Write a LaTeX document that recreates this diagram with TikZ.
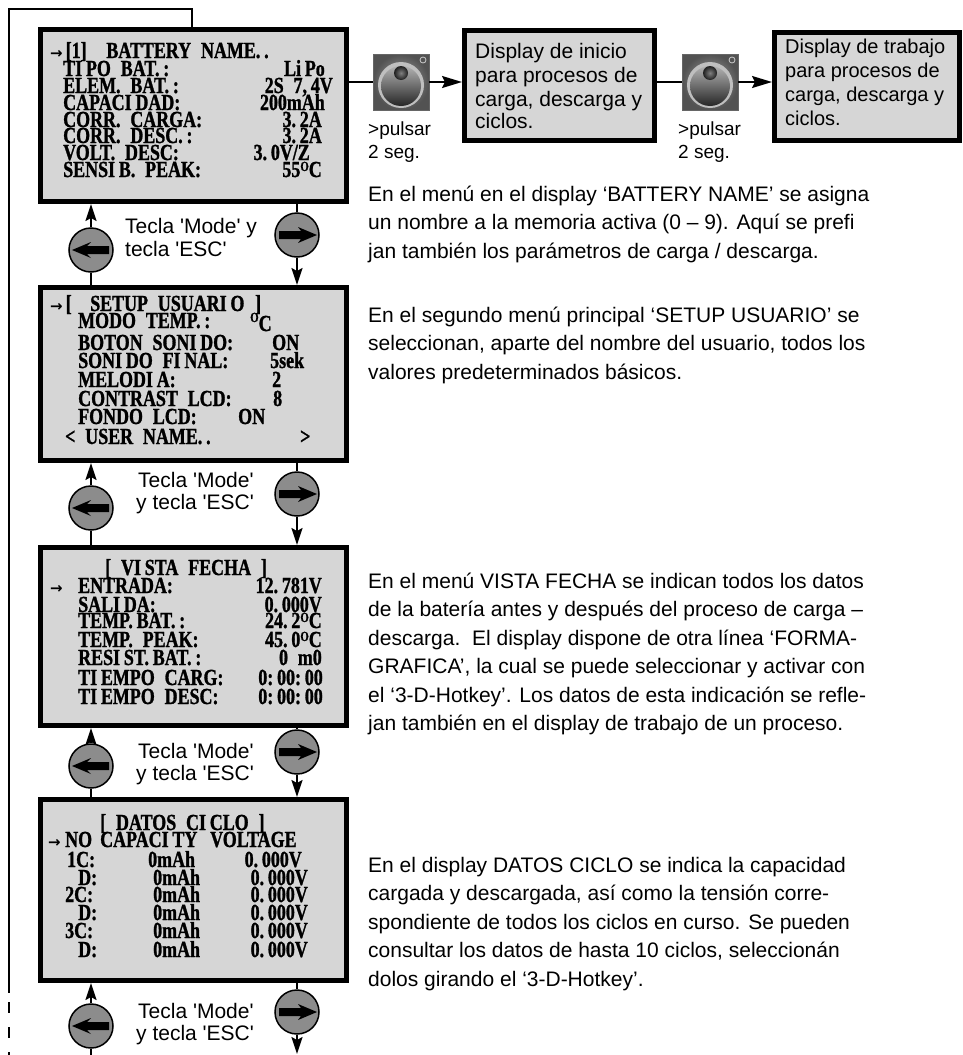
\documentclass[tikz,border=0pt]{standalone}
\usepackage{fontspec}
\setmainfont{Liberation Sans}
\newfontfamily\lcdfont[FakeStretch=0.78,FakeBold=1.2,WordSpace=2.2]{Liberation Serif}
\newfontfamily\arrowfont{DejaVu Sans}
\usetikzlibrary{arrows.meta,calc}

\definecolor{lcdgray}{RGB}{214,214,214}
\definecolor{keygray}{RGB}{140,140,140}

% raised "O" used as degree sign on the LCD screens
\newcommand\dg{\raisebox{6pt}{\fontsize{14}{14}\selectfont O}}
% cursor arrow on the LCD screens
\newcommand\cur{{\arrowfont\bfseries\fontsize{15}{15}\selectfont →}\kern3pt}
\newcommand\sq{\textquotesingle}

\begin{document}
\begin{tikzpicture}[x=1pt,y=-1pt,
  lcd/.style={draw, line width=5pt, fill=lcdgray, inner sep=0pt},
  infobox/.style={draw, line width=5pt, fill=lcdgray, inner sep=0pt},
  lcdL/.style={font=\lcdfont\bfseries\fontsize{23}{23}\selectfont, inner sep=0pt, anchor=base west},
  lcdR/.style={lcdL, anchor=base east},
  txt/.style={font=\fontsize{21}{21}\selectfont, inner sep=0pt, anchor=base west},
  boxtxt/.style={txt, font=\fontsize{#1}{#1}\selectfont},
  key/.style={circle, draw, line width=1.5pt, fill=keygray, minimum size=44pt, inner sep=0pt},
  wire/.style={line width=2pt},
  conn/.style={wire, -{Stealth[length=17pt,width=11pt,inset=3pt]}},
  hconn/.style={wire, -{Stealth[length=20pt,width=12pt,inset=3pt]}},
  joystick/.style={minimum size=56pt, inner sep=0pt, draw=black!60, line width=0.6pt,
    path picture={
      \begin{scope}[shift={(path picture bounding box.center)}]
        \shade[inner color=black!35, outer color=black!68] (-28,-28) rectangle (28,28);
        \fill[black!25] (0,3) circle[radius=23];
        \shade[top color=black!30, bottom color=black!85] (0,4) circle[radius=20];
        \shade[inner color=black!50, outer color=black!88] (0,-9) circle[radius=7];
        \draw[black!20, line width=0.8pt] (22,-22) circle[radius=3];
      \end{scope}}}
]
\useasboundingbox (0,0) rectangle (963,1055);
\fill[white] (0,0) rectangle (963,1055);

% ---------- LCD screens ----------
\node[lcd, minimum width=306, minimum height=172] (lcd1) at (193.5,115.5) {};
\node[lcd, minimum width=306, minimum height=173] (lcd2) at (193.5,374) {};
\node[lcd, minimum width=306, minimum height=178] (lcd3) at (193.5,636.5) {};
\node[lcd, minimum width=306, minimum height=181] (lcd4) at (193.5,890) {};

% screen 1: battery memory
\foreach \x/\y/\t [count=\n] in {
  50/58/{\cur[1]\ \ BATTERY\ NAME.\,.},
  63/76/{TI\,PO BAT.\,:},
  63/93/{ELEM. BAT.\,:},
  63/110/{CAPACI\,DAD:},
  63/127/{CORR. CARGA:},
  63/143/{CORR. DESC.\,:},
  63/160/{VOLT. DESC:},
  63/177/{SENSI\,B. PEAK:}}
  \node[lcdL] (s1l\n) at (\x,\y) {\t};
\foreach \x/\y/\t [count=\n] in {
  325/76/{Li\,Po},
  333/93/{2S 7,\,4V},
  325/110/{200mAh},
  322/127/{3.\,2A},
  322/143/{3.\,2A},
  310/160/{3.\,0V/Z},
  322/177/{55\dg C}}
  \node[lcdR] (s1r\n) at (\x,\y) {\t};

% screen 2: user setup
\foreach \x/\y/\t [count=\n] in {
  50/311/{\cur[},
  90/311/{SETUP USUARI\,O},
  255/311/{]},
  78/328/{MODO TEMP.\,:},
  78/350/{BOTON SONI\,DO:},
  78/368/{SONI\,DO FI\,NAL:},
  78/387/{MELODI\,A:},
  78/406/{CONTRAST LCD:},
  78/424/{FONDO LCD:},
  65/444/{< USER NAME.\,.},
  272/350/{ON},
  270/368/{5sek},
  272/387/{2},
  273/406/{8},
  238/424/{ON},
  300/444/{>}}
  \node[lcdL] (s2l\n) at (\x,\y) {\t};
\node[lcdL] (s2deg) at (250,329) {\raisebox{7pt}{\fontsize{14}{14}\selectfont O}\raisebox{-2pt}{C}};

% screen 3: data view
\foreach \x/\y/\t [count=\n] in {
  105/575/{[ VI\,STA FECHA ]},
  50/593/{\cur},
  78/593/{ENTRADA:},
  78/612/{SALI\,DA:},
  78/628/{TEMP.\,BAT.\,:},
  78/647/{TEMP. PEAK:},
  78/665/{RESI\,ST.\,BAT.\,:},
  78/685/{TI\,EMPO CARG:},
  78/704/{TI\,EMPO DESC:}}
  \node[lcdL] (s3l\n) at (\x,\y) {\t};
\foreach \x/\y/\t [count=\n] in {
  322/593/{12.\,781V},
  322/612/{0.\,000V},
  322/628/{24.\,2\dg C},
  322/647/{45.\,0\dg C},
  322/665/{0\ m0},
  323/685/{0:\,00:\,00},
  323/704/{0:\,00:\,00}}
  \node[lcdR] (s3r\n) at (\x,\y) {\t};

% screen 4: cycle data
\foreach \x/\y/\t [count=\n] in {
  100/830/{[ DATOS CI\,CLO ]},
  48/847/{\cur},
  65/847/{NO},
  100/847/{CAPACI\,TY},
  210/847/{VOLTAGE},
  67/867/{1C:}, 148/867/{0mAh},
  78/885/{D:},  153/885/{0mAh},
  65/902/{2C:}, 153/902/{0mAh},
  78/920/{D:},  153/920/{0mAh},
  65/938/{3C:}, 153/938/{0mAh},
  78/957/{D:},  153/957/{0mAh}}
  \node[lcdL] (s4l\n) at (\x,\y) {\t};
\foreach \x/\y/\t [count=\n] in {
  302/867/{0.\,000V},
  308/885/{0.\,000V},
  308/902/{0.\,000V},
  308/920/{0.\,000V},
  308/938/{0.\,000V},
  308/957/{0.\,000V}}
  \node[lcdR] (s4r\n) at (\x,\y) {\t};

% ---------- navigation keys ----------
\foreach \k/\yl/\yr in {1/250/235, 2/508/494, 3/766/752, 4/1026/1012} {
  \node[key] (bl\k) at (91,\yl) {};
  \node[key] (br\k) at (297,\yr) {};
  \fill[shift={(bl\k.center)}] (-19,0) -- (0,-8) -- (-4,-4) -- (18,-4) -- (18,4) -- (-4,4) -- (0,8) -- cycle;
  \fill[shift={(br\k.center)}] (20,0) -- (1,-8) -- (4,-4) -- (-18,-4) -- (-18,4) -- (4,4) -- (1,8) -- cycle;
}

% key labels
\node[txt] (t1a) at (125,233) {Tecla \sq Mode\sq\ y};
\node[txt] (t1b) at (125,256) {tecla \sq ESC\sq};
\node[txt] (t2a) at (138,487) {Tecla \sq Mode\sq};
\node[txt] (t2b) at (136,509) {y tecla \sq ESC\sq};
\node[txt] (t3a) at (138,758) {Tecla \sq Mode\sq};
\node[txt] (t3b) at (136,780) {y tecla \sq ESC\sq};
\node[txt] (t4a) at (138,1018) {Tecla \sq Mode\sq};
\node[txt] (t4b) at (136,1040) {y tecla \sq ESC\sq};

% key connectors between the screens
\foreach \k/\n in {1/2, 2/3, 3/4} {
  \draw[conn] (bl\k.north) -- (bl\k.north |- lcd\k.south);
  \draw[wire] (bl\k.south) -- (bl\k.south |- lcd\n.north);
  \draw[wire] (br\k.north |- lcd\k.south) -- (br\k.north);
  \draw[conn] (br\k.south) -- (br\k.south |- lcd\n.north);
}
\coordinate (endl) at (91,1055);
\coordinate (endr) at (297,1054);
\draw[conn] (bl4.north) -- (bl4.north |- lcd4.south);
\draw[wire] (bl4.south) -- (endl);
\draw[wire] (br4.north |- lcd4.south) -- (br4.north);
\draw[conn] (br4.south) -- (endr);

% return loop on the left
\coordinate (lp1) at (192,9);
\coordinate (lp2) at (9,9);
\coordinate (lp3) at (9,993);
\coordinate (lp4) at (9,1055);
\draw[wire] (lcd1.north -| lp1) -- (lp1) -- (lp2) -- (lp3);
\draw[wire, dash pattern=on 11pt off 14pt, dash phase=16pt] (lp3) -- (lp4);

% ---------- start / work displays ----------
\node[joystick] (j1) at (401,82) {};
\node[joystick] (j2) at (710,82) {};
\node[infobox, minimum width=190, minimum height=110] (box1) at (559.5,85.5) {};
\node[infobox, minimum width=185, minimum height=108] (box2) at (867,86.5) {};

\draw[wire] (lcd1.east |- j1.west) -- (j1.west);
\draw[hconn] (j1.east) -- (j1.east -| box1.west);
\draw[wire] (box1.east |- j2.west) -- (j2.west);
\draw[hconn] (j2.east) -- (j2.east -| box2.west);

\foreach \y/\t [count=\n] in {58/{Display de inicio}, 82/{para procesos de},
  106/{carga, descarga y}, 128/{ciclos.}}
  \node[boxtxt=21] (b1t\n) at (475,\y) {\t};
\foreach \y/\t [count=\n] in {53/{Display de trabajo}, 77/{para procesos de},
  101/{carga, descarga y}, 125/{ciclos.}}
  \node[boxtxt=20] (b2t\n) at (785,\y) {\t};

\node[boxtxt=19] (p1a) at (368,135) {>pulsar};
\node[boxtxt=19] (p1b) at (368,158) {2 seg.};
\node[boxtxt=19] (p2a) at (678,135) {>pulsar};
\node[boxtxt=19] (p2b) at (678,158) {2 seg.};

% ---------- descriptions ----------
\foreach \t [count=\i from 0] in {
  {En el menú en el display ‘BATTERY NAME’ se asigna},
  {un nombre a la memoria activa (0 – 9). Aquí se prefi},
  {jan también los parámetros de carga / descarga.}}
  \node[txt] (da\i) at (368,201+28.5*\i) {\t};
\foreach \t [count=\i from 0] in {
  {En el segundo menú principal ‘SETUP USUARIO’ se},
  {seleccionan, aparte del nombre del usuario, todos los},
  {valores predeterminados básicos.}}
  \node[txt] (db\i) at (368,322+28.5*\i) {\t};
\foreach \t [count=\i from 0] in {
  {En el menú VISTA FECHA se indican todos los datos},
  {de la batería antes y después del proceso de carga –},
  {descarga.\ \ El display dispone de otra línea ‘FORMA-},
  {GRAFICA’, la cual se puede seleccionar y activar con},
  {el ‘3-D-Hotkey’. Los datos de esta indicación se refle-},
  {jan también en el display de trabajo de un proceso.}}
  \node[txt] (dc\i) at (368,588+28.5*\i) {\t};
\foreach \t [count=\i from 0] in {
  {En el display DATOS CICLO se indica la capacidad},
  {cargada y descargada, así como la tensión corre-},
  {spondiente de todos los ciclos en curso. Se pueden},
  {consultar los datos de hasta 10 ciclos, seleccionán},
  {dolos girando el ‘3-D-Hotkey’.}}
  \node[txt] (dd\i) at (368,872+28.5*\i) {\t};
\end{tikzpicture}
\end{document}
